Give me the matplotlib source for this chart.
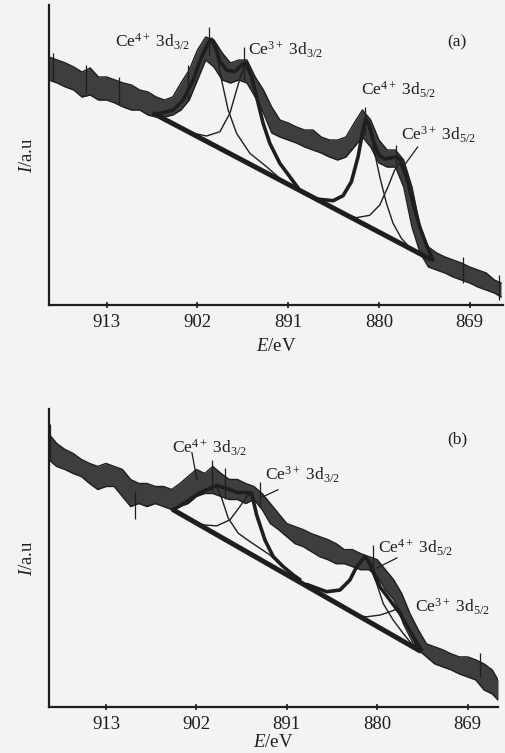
import matplotlib
matplotlib.use("Agg")
import matplotlib.pyplot as plt

plt.rcParams['font.family'] = ['Liberation Serif', 'DejaVu Serif']
plt.rcParams['mathtext.fontset'] = 'custom'
plt.rcParams['mathtext.rm'] = 'Liberation Serif'
plt.rcParams['mathtext.it'] = 'Liberation Serif:italic'

INK = '#1e1e1e'
BG = '#f3f3f2'

# ---- panel (a): spectrum band (1 eV steps)
energy_a = [920, 919, 918, 917, 916, 915, 914, 913, 912, 911,
            910, 909, 908, 907, 906, 905, 904, 903, 902, 901,
            900, 899, 898, 897, 896, 895, 894, 893, 892, 891,
            890, 889, 888, 887, 886, 885, 884, 883, 882, 881,
            880, 879, 878, 877, 876, 875, 874, 873, 872, 871,
            870, 869, 868, 867, 866, 865.2]
hi_a = [248, 245, 242, 238, 233, 237, 228, 228, 225, 222,
        220, 215, 213, 208, 205, 208, 222, 235, 255, 268,
        265, 252, 242, 245, 245, 228, 215, 198, 185, 182,
        178, 175, 175, 168, 165, 165, 168, 182, 195, 185,
        165, 155, 155, 145, 118, 78, 58, 52, 48, 45,
        42, 38, 35, 32, 25, 22]
lo_a = [225, 222, 218, 215, 208, 210, 205, 205, 202, 198,
        195, 195, 190, 188, 188, 190, 195, 205, 225, 245,
        238, 225, 222, 225, 222, 208, 192, 172, 168, 165,
        162, 158, 155, 152, 148, 145, 148, 158, 168, 158,
        142, 138, 138, 118, 78, 52, 38, 35, 32, 28,
        25, 22, 18, 15, 12, 8]
spike_a_E = [919.5, 915.5, 911.5, 903.2, 900.6, 896.3, 881.7, 877.9, 869.8, 865.4]
spike_a_lo = [225, 212, 200, 205, 250, 225, 170, 140, 22, 5]
spike_a_hi = [252, 240, 228, 240, 278, 258, 198, 160, 48, 30]

base_a_E = [907.2, 873.8]
base_a_v = [191, 46]

a_ce4_32_E = [907.36, 904.94, 903.73, 902.52, 901.50, 900.70, 900.29, 899.69, 899.08,
              898.28, 897.26, 895.65, 893.63, 892.02, 891.2]
a_ce4_32_v = [190, 195, 205, 225, 248.3, 261.7, 265.7, 251.7, 225,
              195, 171.7, 151.7, 138.3, 126.7, 123]
a_ce3_32_E = [902.92, 900.90, 899.28, 898.07, 897.26, 896.66, 896.14, 895.44, 894.84,
              894.04, 893.23, 892.02, 890.81, 889.8]
a_ce3_32_v = [172.4, 169, 173.3, 191.7, 215, 231.7, 241.7, 228.3, 208.3,
              181.7, 161.7, 141.7, 128.3, 117]
a_ce4_52_E = [887.57, 885.56, 884.35, 883.34, 882.53, 881.93, 881.6, 881.12, 880.51,
              879.90, 879.09, 878.29, 877.28, 876.27]
a_ce4_52_v = [106, 104.3, 109.3, 123.3, 148.3, 175, 186, 178.3, 151.7,
              128.3, 101.7, 81.7, 66.7, 57.5]
a_ce3_52_E = [884.35, 882.73, 881.12, 879.90, 878.90, 878.09, 877.48, 876.67, 875.87,
              875.06, 874.25, 873.45]
a_ce3_52_v = [91.8, 87.3, 89.7, 100, 118.3, 135, 141.7, 128.3, 101.7,
              78.3, 60, 45]
a_env1_E = [907.36, 904.94, 903.73, 902.52, 901.50, 900.70, 900.29, 899.69, 899.28,
            898.47, 897.47, 896.66, 896.14, 895.44, 894.84, 894.04, 893.23, 892.02,
            890.81, 889.8]
a_env1_v = [190, 195, 205, 225, 248.3, 261.7, 265.7, 255, 243.3,
            235, 233.3, 240, 242, 228.3, 208.3, 181.7, 161.7, 141.7,
            128.3, 117]
a_env2_E = [887.57, 885.56, 884.35, 883.34, 882.53, 881.93, 881.6, 881.2, 880.6,
            880.0, 879.3, 878.6, 877.9, 877.48, 876.67, 875.87, 875.06, 874.25, 873.45]
a_env2_v = [106, 104.3, 109.3, 123.3, 148.3, 175, 186, 180, 162,
            150, 146, 147, 148, 146, 128.3, 101.7, 78.3, 60, 45]

# ---- panel (b)
energy_b = [920, 919, 918, 917, 916, 915, 914, 913, 912, 911,
            910, 909, 908, 907, 906, 905, 904, 903, 902, 901,
            900, 899, 898, 897, 896, 895, 894, 893, 892, 891,
            890, 889, 888, 887, 886, 885, 884, 883, 882, 881,
            880, 879, 878, 877, 876, 875, 874, 873, 872, 871,
            870, 869, 868, 867, 866, 865.3]
hi_b = [273, 263, 257, 253, 247, 243, 240, 243, 240, 237,
        227, 223, 223, 220, 220, 217, 223, 230, 237, 233,
        240, 233, 227, 227, 223, 220, 213, 203, 193, 183,
        180, 177, 173, 170, 167, 163, 157, 157, 153, 150,
        147, 137, 127, 113, 93, 77, 63, 60, 57, 53,
        50, 50, 47, 43, 37, 27]
lo_b = [247, 240, 237, 233, 230, 223, 217, 220, 220, 210,
        200, 203, 200, 203, 200, 197, 200, 203, 210, 213,
        213, 210, 207, 207, 203, 207, 197, 183, 177, 170,
        163, 160, 155, 150, 147, 143, 143, 140, 137, 137,
        130, 117, 107, 93, 73, 57, 50, 43, 40, 37,
        33, 30, 27, 17, 13, 7]
spike_b_E = [919.8, 909.5, 900.1, 898.5, 894.3, 880.5, 867.5]
spike_b_lo = [245, 188, 215, 208, 200, 133, 30]
spike_b_hi = [282, 215, 246, 238, 224, 162, 54]

base_b_E = [904.81, 874.8]
base_b_v = [196.7, 56]

b_ce4_32_E = [904.81, 903.18, 901.56, 899.53, 898.92, 898.12, 896.90, 895.48, 893.05, 891.02, 890.3]
b_ce4_32_v = [196.7, 203.3, 213.3, 220, 208.3, 188.3, 173.3, 165, 151.7, 136.7, 132]
b_ce3_32_E = [903.18, 901.16, 899.53, 897.91, 896.70, 895.88, 895.28, 894.67, 893.66,
              892.65, 891.43, 890.21, 889.4]
b_ce3_32_v = [189, 181.7, 180.7, 186.7, 200, 210, 213.3, 191.7, 166.7,
              150, 140, 131.7, 127]
b_ce4_52_E = [888.58, 886.15, 884.53, 883.32, 882.50, 881.49, 880.88, 880.07, 879.27,
              878.05, 876.83, 875.8]
b_ce4_52_v = [122.3, 115, 116.7, 126.7, 140, 150, 140, 123.3, 103.3,
              86.7, 73.3, 63]
b_ce3_52_E = [882.2, 881.29, 879.67, 878.45, 877.44, 876.83, 875.61, 874.8]
b_ce3_52_v = [90.9, 90, 91.7, 95, 98.3, 83.3, 63.3, 56]
b_env1_E = [904.81, 903.18, 901.56, 899.53, 898.3, 897.0, 895.9, 895.28, 894.67,
            893.66, 892.65, 891.43, 890.21, 889.4]
b_env1_v = [196.7, 205, 214, 221, 218, 214, 214, 213.3, 191.7,
            166.7, 150, 140, 131.7, 127]
b_env2_E = [888.58, 886.15, 884.53, 883.32, 882.50, 881.49, 880.88, 879.67, 878.45,
            877.23, 875.61, 874.6]
b_env2_v = [122.3, 115, 116.7, 126.7, 140, 150, 143.3, 120, 106.7,
            93.3, 70, 57]

ticks = [913, 902, 891, 880, 869]

lab_ce4_32 = r'Ce$^{4+}$ 3d$_{3/2}$'
lab_ce3_32 = r'Ce$^{3+}$ 3d$_{3/2}$'
lab_ce4_52 = r'Ce$^{4+}$ 3d$_{5/2}$'
lab_ce3_52 = r'Ce$^{3+}$ 3d$_{5/2}$'


def draw_panel(ax, E, hi, lo, sE, slo, shi, base_E, base_v, comps, envs, xlim, ylim, xpad):
    ax.set_facecolor(BG)
    ax.fill_between(E, lo, hi, color=INK, lw=0, alpha=0.85)
    ax.plot(E, hi, color=INK, lw=1.0)
    ax.plot(E, lo, color=INK, lw=1.0)
    ax.vlines(sE, slo, shi, color=INK, lw=0.9)
    for cE, cv in comps:
        ax.plot(cE, cv, color=INK, lw=1.0)
    for eE, ev in envs:
        ax.plot(eE, ev, color=INK, lw=2.6, solid_capstyle='round')
    ax.plot(base_E, base_v, color=INK, lw=3.6, solid_capstyle='round')
    ax.set_xlim(*xlim)
    ax.set_ylim(*ylim)
    ax.set_xticks(ticks)
    ax.set_xticklabels([str(t) for t in ticks])
    ax.set_yticks([])
    for s in ['top', 'right']:
        ax.spines[s].set_visible(False)
    for s in ['left', 'bottom']:
        ax.spines[s].set_color(INK)
        ax.spines[s].set_linewidth(1.6)
    ax.tick_params(axis='x', direction='inout', length=5, width=1.2,
                   colors=INK, labelsize=13.5, pad=4)
    ax.set_xlabel(r'$E$/eV', fontsize=13.5, color=INK, labelpad=xpad)
    ax.set_ylabel(r'$I$/a.u', fontsize=13.5, color=INK, labelpad=9)


fig = plt.figure(figsize=(5.05, 7.53), dpi=100, facecolor=BG)

ax_a = fig.add_axes([49 / 505, 1 - 305 / 753, 454 / 505, 300 / 753])
draw_panel(ax_a, energy_a, hi_a, lo_a, spike_a_E, spike_a_lo, spike_a_hi,
           base_a_E, base_a_v,
           [(a_ce4_32_E, a_ce4_32_v), (a_ce3_32_E, a_ce3_32_v),
            (a_ce4_52_E, a_ce4_52_v), (a_ce3_52_E, a_ce3_52_v)],
           [(a_env1_E, a_env1_v), (a_env2_E, a_env2_v)],
           (920, 864.96), (0, 300), 5)
fs = 12.5
ax_a.text(907.4, 263, lab_ce4_32, fontsize=fs, ha='center', va='center', color=INK)
ax_a.text(891.3, 255, lab_ce3_32, fontsize=fs, ha='center', va='center', color=INK)
ax_a.text(870.6, 263, '(a)', fontsize=fs, ha='center', va='center', color=INK)
ax_a.text(877.6, 215, lab_ce4_52, fontsize=fs, ha='center', va='center', color=INK)
ax_a.text(872.8, 170, lab_ce3_52, fontsize=fs, ha='center', va='center', color=INK)
ax_a.plot([875.3, 876.9], [158, 140], color=INK, lw=0.9)

ax_b = fig.add_axes([49 / 505, 1 - 707 / 753, 449 / 505, 298 / 753])
draw_panel(ax_b, energy_b, hi_b, lo_b, spike_b_E, spike_b_lo, spike_b_hi,
           base_b_E, base_b_v,
           [(b_ce4_32_E, b_ce4_32_v), (b_ce3_32_E, b_ce3_32_v),
            (b_ce4_52_E, b_ce4_52_v), (b_ce3_52_E, b_ce3_52_v)],
           [(b_env1_E, b_env1_v), (b_env2_E, b_env2_v)],
           (919.93, 865.3), (0, 297.3), 1)
ax_b.text(900.35, 258.7, lab_ce4_32, fontsize=fs, ha='center', va='center', color=INK)
ax_b.plot([902.54, 901.93], [253.7, 226.7], color=INK, lw=0.9)
ax_b.text(889.03, 231.7, lab_ce3_32, fontsize=fs, ha='center', va='center', color=INK)
ax_b.plot([892.08, 893.9], [216.7, 209.7], color=INK, lw=0.9)
ax_b.text(870.3, 266.7, '(b)', fontsize=fs, ha='center', va='center', color=INK)
ax_b.text(875.29, 158.7, lab_ce4_52, fontsize=fs, ha='center', va='center', color=INK)
ax_b.plot([877.6, 880.03], [148.7, 138.7], color=INK, lw=0.9)
ax_b.text(870.79, 99.7, lab_ce3_52, fontsize=fs, ha='center', va='center', color=INK)

fig.savefig('out.png', dpi=100, facecolor=BG)
